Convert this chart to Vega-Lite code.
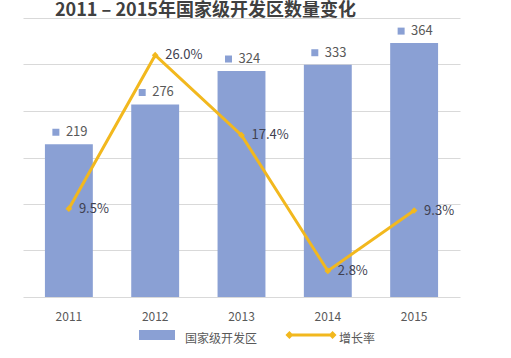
{
  "$schema": "https://vega.github.io/schema/vega-lite/v6.json",
  "width": 437,
  "height": 279,
  "autosize": {"type": "none"},
  "padding": {"left": 23, "top": 18, "right": 51, "bottom": 61},
  "background": "white",
  "config": {"font": "Noto Sans CJK SC", "view": {"stroke": null}},
  "title": {
    "text": "2011 – 2015年国家级开发区数量变化",
    "anchor": "start",
    "frame": "group",
    "dx": 32,
    "offset": -16,
    "fontSize": 18,
    "fontWeight": "bold",
    "color": "#404040",
    "font": "Noto Sans CJK SC",
    "baseline": "alphabetic"
  },
  "data": {
    "values": [
      {"year": "2011", "count": 219, "rate": 0.095},
      {"year": "2012", "count": 276, "rate": 0.26},
      {"year": "2013", "count": 324, "rate": 0.174},
      {"year": "2014", "count": 333, "rate": 0.028},
      {"year": "2015", "count": 364, "rate": 0.093}
    ]
  },
  "encoding": {
    "x": {
      "field": "year",
      "type": "ordinal",
      "scale": {"paddingInner": 0.445, "paddingOuter": 0.254},
      "axis": {
        "title": null,
        "labelAngle": 0,
        "ticks": false,
        "domain": false,
        "labelPadding": 14,
        "labelFontSize": 12,
        "labelColor": "#595959"
      }
    }
  },
  "layer": [
    {
      "encoding": {
        "y": {"field": "count", "type": "quantitative", "scale": {"domain": [0, 400]}, "axis": null}
      },
      "layer": [
        {
          "mark": {"type": "bar"},
          "encoding": {
            "color": {
              "datum": "国家级开发区",
              "scale": {"domain": ["国家级开发区", "增长率"], "range": ["#8aa0d4", "#f2b81e"]},
              "legend": {
                "orient": "none",
                "legendX": 112,
                "legendY": 295,
                "direction": "horizontal",
                "title": null,
                "symbolSize": 1936,
                "labelFontSize": 12,
                "labelColor": "#595959",
                "labelOffset": 6,
                "columnPadding": 27,
                "encode": {
                  "symbols": {
                    "update": {
                      "shape": {"signal": "datum.label === '增长率' ? 'M-0.977,-0.068H0.977V0.068H-0.977Z M-0.98,-0.18L-0.8,0L-0.98,0.18L-1.16,0Z M0.98,-0.18L1.16,0L0.98,0.18L0.8,0Z' : 'M-0.818,-0.227H0.818V0.227H-0.818Z'"},
                      "fill": {"signal": "datum.label === '增长率' ? '#f0a030' : '#5b9bd5'"},
                      "strokeWidth": {"value": 0},
                      "opacity": {"value": 1}
                    }
                  },
                  "labels": {"update": {"dy": {"value": 4}}}
                }
              }
            }
          }
        },
        {
          "mark": {"type": "point", "shape": "square", "filled": true, "size": 49, "xOffset": -13, "yOffset": -12, "color": "#8aa0d4", "opacity": 1}
        },
        {
          "mark": {"type": "text", "align": "left", "baseline": "middle", "dx": -3, "dy": -12, "fontSize": 13, "color": "#595959"},
          "encoding": {"text": {"field": "count"}}
        }
      ]
    },
    {
      "encoding": {
        "y": {
          "field": "rate",
          "type": "quantitative",
          "scale": {"domain": [0, 0.3]},
          "axis": {
            "values": [0, 0.05, 0.1, 0.15, 0.2, 0.25, 0.3],
            "grid": true,
            "gridColor": "#d9d9d9",
            "labels": false,
            "ticks": false,
            "domain": false,
            "title": null
          }
        }
      },
      "layer": [
        {
          "mark": {"type": "line", "strokeWidth": 3, "point": {"filled": true, "shape": "diamond", "size": 45}},
          "encoding": {"color": {"datum": "增长率"}}
        },
        {
          "mark": {"type": "text", "align": "left", "baseline": "middle", "dx": 10, "fontSize": 13, "color": "#404050"},
          "encoding": {"text": {"field": "rate", "format": ".1%"}}
        }
      ]
    }
  ],
  "resolve": {"scale": {"y": "independent"}}
}
